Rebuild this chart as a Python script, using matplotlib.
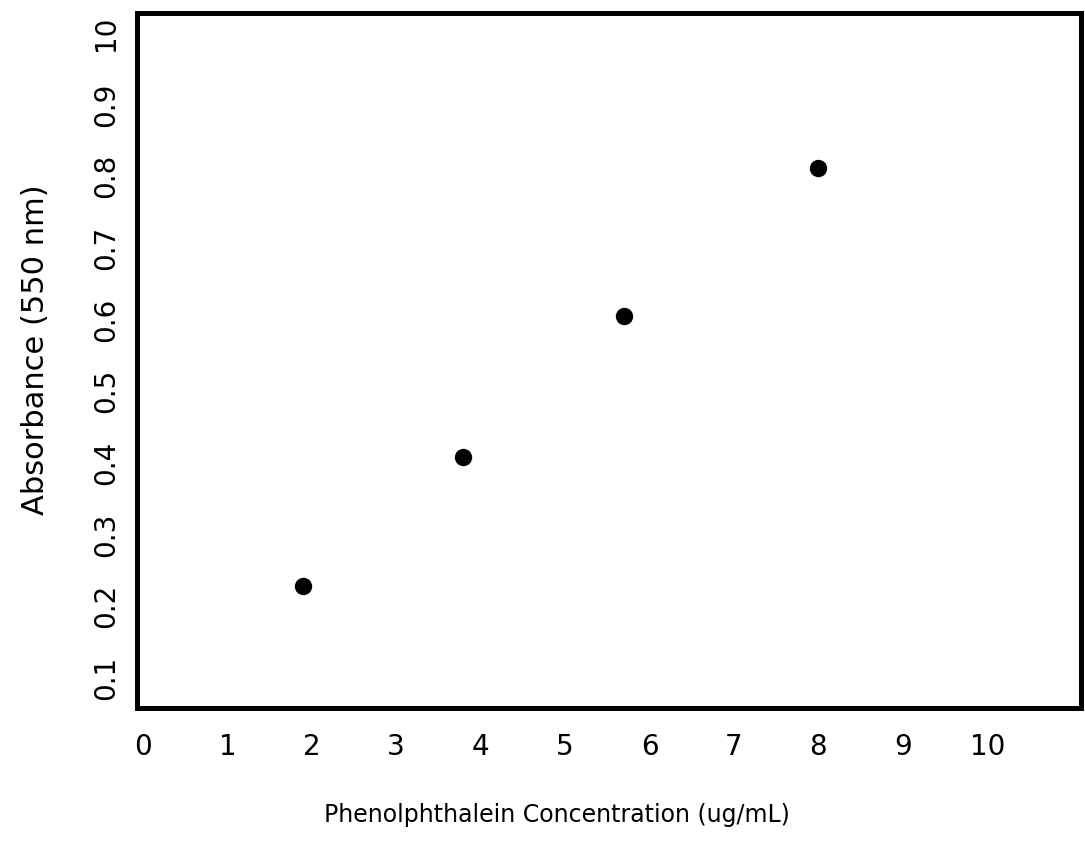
import matplotlib

matplotlib.use("Agg")
import matplotlib.pyplot as plt

# values
concentration = [1.89, 3.79, 5.70, 7.99]   # ug/mL
absorbance = [0.229, 0.408, 0.605, 0.812]  # 550 nm

x_ticks = [0, 1, 2, 3, 4, 5, 6, 7, 8, 9, 10]
x_tick_labels = ["0", "1", "2", "3", "4", "5", "6", "7", "8", "9", "10"]
y_ticks = [0.1, 0.2, 0.3, 0.4, 0.5, 0.6, 0.7, 0.8, 0.9, 1.0]
y_tick_labels = ["0.1", "0.2", "0.3", "0.4", "0.5", "0.6", "0.7", "0.8", "0.9", "10"]

plt.rcParams["font.family"] = ["DejaVu Sans"]

fig = plt.figure(figsize=(10.85, 8.44), dpi=100)
ax = fig.add_axes([0.1263, 0.1611, 0.87, 0.8235])

ax.plot(concentration, absorbance, "o", color="black", markersize=11.5, linestyle="none")

ax.set_xlim(-0.07, 11.11)
ax.set_ylim(0.058, 1.028)
ax.set_xticks(x_ticks)
ax.set_xticklabels(x_tick_labels, fontsize=20)
ax.set_yticks(y_ticks)
ax.set_yticklabels(y_tick_labels, fontsize=20, rotation=90, va="center")
ax.tick_params(axis="x", length=0, pad=18)
ax.tick_params(axis="y", length=0, pad=12)

for spine in ax.spines.values():
    spine.set_linewidth(3.6)
    spine.set_color("black")

ax.set_xlabel("Phenolphthalein Concentration (ug/mL)", fontsize=17, va="center")
ax.xaxis.set_label_coords(0.445, -0.154)
ax.set_ylabel("Absorbance (550 nm)", fontsize=22, va="center")
ax.yaxis.set_label_coords(-0.108, 0.515)

fig.savefig("out.png", dpi=100)
